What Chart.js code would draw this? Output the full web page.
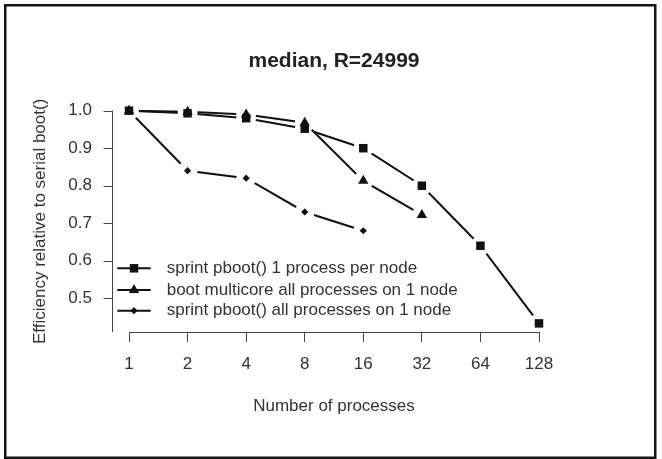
<!DOCTYPE html>
<html>
<head>
<meta charset="utf-8">
<script src="https://cdn.jsdelivr.net/npm/chart.js@4/dist/chart.umd.min.js"></script>
<style>
  html, body { margin: 0; padding: 0; background: #ffffff; }
  canvas { display: block; }
</style>
</head>
<body>
<canvas id="c" width="662" height="459"></canvas>
<script>
// ---- data ----
const xCategories = [1, 2, 4, 8, 16, 32, 64, 128];
const xTickLabels = ['1', '2', '4', '8', '16', '32', '64', '128'];
const sprintPerNode = [1.0, 0.993, 0.98, 0.952, 0.90, 0.80, 0.64, 0.433];
const multicoreOneNode = [1.0, 0.997, 0.99, 0.968, 0.813, 0.722];
const sprintOneNode = [1.0, 0.84, 0.82, 0.73, 0.68];
const yTicks = [0.5, 0.6, 0.7, 0.8, 0.9, 1.0];
const seriesLabels = [
  'sprint pboot() 1 process per node',
  'boot multicore all processes on 1 node',
  'sprint pboot() all processes on 1 node'
];
const titleText = 'median, R=24999';
const xTitle = 'Number of processes';
const yTitle = 'Efficiency relative to serial boot()';

const FONT = "'Liberation Sans', Arial, Helvetica, sans-serif";
const INK = '#111111';
const AXIS = '#444444';
const TEXT = '#333333';

function pts(values) {
  return values.map((v, i) => ({ x: xCategories[i], y: v }));
}

// R type="b": line segments stop short of each point of the same series
const GAP = 10;
const gapPlugin = {
  id: 'rGaps',
  beforeDatasetDraw(chart, args) {
    const ctx = chart.ctx;
    ctx.save();
    ctx.beginPath();
    ctx.rect(0, 0, chart.width, chart.height);
    args.meta.data.forEach(p => {
      ctx.moveTo(p.x + GAP, p.y);
      ctx.arc(p.x, p.y, GAP, 0, Math.PI * 2);
    });
    ctx.clip('evenodd');
  },
  afterDatasetDraw(chart) {
    chart.ctx.restore();
  },
  afterDatasetsDraw(chart) {
    const ctx = chart.ctx;
    chart.data.datasets.forEach((d, i) => {
      const meta = chart.getDatasetMeta(i);
      meta.data.forEach(el => el.draw(ctx, chart.chartArea));
    });
  }
};

// page frame + R style detached y axis + legend
const framePlugin = {
  id: 'frame',
  beforeDraw(chart) {
    const ctx = chart.ctx;
    ctx.save();
    ctx.fillStyle = '#ffffff';
    ctx.fillRect(0, 0, chart.width, chart.height);
    ctx.restore();
  },
  afterDraw(chart) {
    const ctx = chart.ctx;
    const area = chart.chartArea;
    const ys = chart.scales.y;
    ctx.save();
    // outer frame
    ctx.strokeStyle = '#151515';
    ctx.lineWidth = 2.5;
    ctx.strokeRect(5.25, 5.25, 650, 452.5);
    // y axis line and ticks
    const ax = area.left - 16.5;
    ctx.strokeStyle = AXIS;
    ctx.lineWidth = 1;
    ctx.beginPath();
    ctx.moveTo(ax, area.top);
    ctx.lineTo(ax, area.bottom);
    yTicks.forEach(v => {
      const py = Math.round(ys.getPixelForValue(v)) + 0.5;
      ctx.moveTo(ax - 9, py);
      ctx.lineTo(ax, py);
    });
    ctx.stroke();
    // legend (no box)
    const rows = [area.top + 157.6, area.top + 179.3, area.top + 200];
    const x0 = area.left - 11.7, x1 = area.left + 21.7, xm = area.left + 5, xt = area.left + 37.7;
    chart.data.datasets.forEach((d, i) => {
      const y = rows[i];
      ctx.strokeStyle = INK;
      ctx.lineWidth = 2;
      ctx.beginPath();
      ctx.moveTo(x0, y);
      ctx.lineTo(x1, y);
      ctx.stroke();
      ctx.fillStyle = INK;
      if (Chart.helpers && Chart.helpers.drawPoint) {
        Chart.helpers.drawPoint(ctx, {
          pointStyle: d.pointStyle, rotation: 0,
          radius: d.pointRadius, borderWidth: 0
        }, xm, y);
      }
      ctx.fillStyle = TEXT;
      ctx.font = '17px ' + FONT;
      ctx.textAlign = 'left';
      ctx.textBaseline = 'middle';
      ctx.fillText(d.label, xt, y);
    });
    ctx.restore();
  }
};

new Chart(document.getElementById('c'), {
  type: 'line',
  data: {
    datasets: [
      {
        label: seriesLabels[0], data: pts(sprintPerNode),
        borderColor: INK, backgroundColor: INK, borderWidth: 2,
        pointStyle: 'rect', pointRadius: 6, pointBorderWidth: 0,
        pointBackgroundColor: INK, clip: false, tension: 0
      },
      {
        label: seriesLabels[1], data: pts(multicoreOneNode),
        borderColor: INK, backgroundColor: INK, borderWidth: 2,
        pointStyle: 'triangle', pointRadius: 6, pointBorderWidth: 0,
        pointBackgroundColor: INK, clip: false, tension: 0
      },
      {
        label: seriesLabels[2], data: pts(sprintOneNode),
        borderColor: INK, backgroundColor: INK, borderWidth: 2,
        pointStyle: 'rectRot', pointRadius: 3.6, pointBorderWidth: 0,
        pointBackgroundColor: INK, clip: false, tension: 0
      }
    ]
  },
  options: {
    responsive: false,
    animation: false,
    devicePixelRatio: 1,
    layout: { padding: { left: 10, right: 123, top: 0, bottom: 0 } },
    plugins: {
      legend: { display: false },
      tooltip: { enabled: false },
      title: {
        display: true, text: titleText, fullSize: false,
        color: '#222222',
        font: { family: FONT, size: 21, weight: 'bold' },
        padding: { top: 49, bottom: 36.5 }
      }
    },
    scales: {
      x: {
        type: 'logarithmic',
        position: 'bottom',
        min: xCategories[0],
        max: xCategories[xCategories.length - 1],
        afterBuildTicks: s => { s.ticks = xCategories.map(v => ({ value: v })); },
        afterFit: s => { s.height = 127; },
        ticks: {
          color: TEXT, font: { family: FONT, size: 17 }, padding: 12.5,
          autoSkip: false, maxRotation: 0,
          callback: (v) => xTickLabels[xCategories.indexOf(v)]
        },
        grid: {
          display: true, drawOnChartArea: false, drawTicks: true,
          tickLength: 10, color: AXIS, lineWidth: 1
        },
        border: { display: true, color: AXIS, width: 1 },
        title: {
          display: true, text: xTitle, color: TEXT,
          font: { family: FONT, size: 17 }, padding: { top: 0, bottom: 42 }
        }
      },
      y: {
        type: 'linear',
        position: 'left',
        min: 0.41, max: 1.0,
        afterBuildTicks: s => { s.ticks = yTicks.map(v => ({ value: v })); },
        afterFit: s => { s.width = 119; },
        ticks: {
          color: TEXT, font: { family: FONT, size: 17 }, padding: 37,
          callback: v => Number(v).toFixed(1)
        },
        grid: { display: false, drawTicks: false },
        border: { display: false },
        title: {
          display: true, text: yTitle, color: TEXT,
          font: { family: FONT, size: 17 }, padding: { top: 20, bottom: 0 }
        }
      }
    }
  },
  plugins: [gapPlugin, framePlugin]
});
</script>
</body>
</html>
